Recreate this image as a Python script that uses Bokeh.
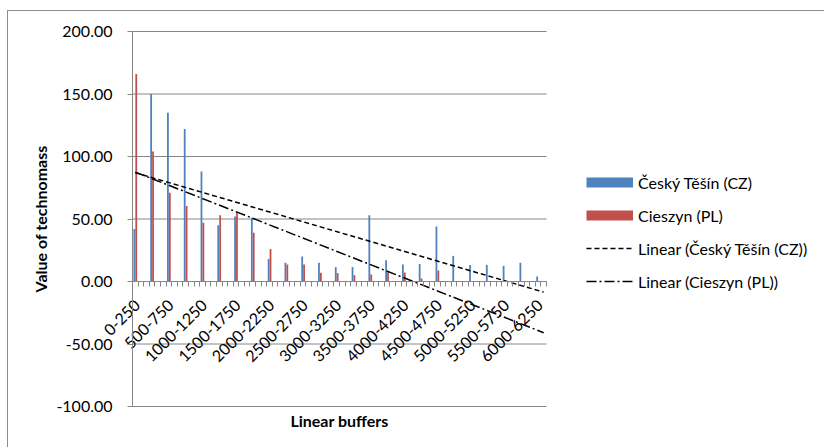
from math import pi
from bokeh.plotting import figure
from bokeh.models import (Range1d, FixedTicker, LinearAxis, Legend, LegendItem,
                          NumeralTickFormatter, ColumnDataSource)
from bokeh.core.properties import value
from bokeh.embed import file_html
from bokeh.resources import INLINE

# ---------------- data ----------------
buffers = ["0-250", "250-500", "500-750", "750-1000", "1000-1250", "1250-1500",
           "1500-1750", "1750-2000", "2000-2250", "2250-2500", "2500-2750", "2750-3000",
           "3000-3250", "3250-3500", "3500-3750", "3750-4000", "4000-4250", "4250-4500",
           "4500-4750", "4750-5000", "5000-5250", "5250-5500", "5500-5750", "5750-6000",
           "6000-6250"]
cesky_tesin = [42, 150, 135, 122, 88, 45, 52, 51, 18, 15, 20, 15, 11.5, 11.5, 53,
               17, 13.6, 14, 44, 20.5, 13.3, 13.3, 12.5, 15, 4]
cieszyn = [166, 104, 71, 60.5, 47, 53, 55.5, 39, 26, 13.6, 13.6, 7, 6.7, 5, 5.6,
           7.5, 7.2, 2.4, 8.8, 0, 0, 0, 0, 0, 0]
# linear trend lines: values at first and last category slot
trend_cz = [87.0, -8.5]
trend_pl = [87.5, -41.0]
y_ticks = [-100, -50, 0, 50, 100, 150, 200]

series_names = ["Český Těšín (CZ)", "Cieszyn (PL)",
                "Linear (Český Těšín (CZ))", "Linear (Cieszyn (PL))"]

# ---------------- layout helpers ----------------
SLOTS_PER_ROW = 3          # category axis has blank rows between data rows
N_SLOTS = 74
CANVAS_W, CANVAS_H = 817, 437
AREA_LEFT, AREA_TOP = 124, 20      # plot area position inside the canvas (px)
AREA_W, AREA_H = 414, 375          # plot area size (px)
BLUE = "#4F81BD"
RED = "#C0504D"
GRID = "#868686"
FONT = "Lato"

x_per_px = N_SLOTS / AREA_W
y_lo, y_hi = y_ticks[0], y_ticks[-1]
y_per_px = (y_hi - y_lo) / AREA_H
x_range = Range1d(-AREA_LEFT * x_per_px, (CANVAS_W - AREA_LEFT) * x_per_px)
y_range = Range1d(y_lo - (CANVAS_H - AREA_TOP - AREA_H) * y_per_px, y_hi + AREA_TOP * y_per_px)

xc = [SLOTS_PER_ROW * i + 0.5 for i in range(len(buffers))]
src = ColumnDataSource(dict(x_cz=[x - 0.17 for x in xc], x_pl=[x + 0.17 for x in xc],
                            cz=cesky_tesin, pl=cieszyn))

p = figure(width=CANVAS_W, height=CANVAS_H, output_backend="svg", toolbar_location=None,
           x_range=x_range, y_range=y_range, x_axis_location=None,
           min_border_left=0, min_border_right=0, min_border_top=0, min_border_bottom=0)
p.margin = (10, 0, 0, 7)
p.styles = {"border-left": "1px solid #8c8c8c", "border-top": "1px solid #8c8c8c"}
p.outline_line_color = None
p.background_fill_color = "white"
p.border_fill_color = "white"
p.xgrid.grid_line_color = None
p.ygrid.grid_line_color = None

# value axis, placed at the left edge of the category area
yax = p.yaxis[0]
yax.fixed_location = 0
yax.bounds = (y_lo, y_hi)
yax.ticker = FixedTicker(ticks=y_ticks)
yax.formatter = NumeralTickFormatter(format="0.00")
yax.major_label_text_font = FONT
yax.major_label_text_font_size = "16px"
yax.major_label_text_color = "black"
yax.major_tick_out = 5
yax.major_tick_in = 0
yax.minor_tick_out = 0
yax.minor_tick_in = 0
yax.major_label_standoff = 15
yax.axis_line_color = GRID
yax.major_tick_line_color = GRID

# horizontal gridlines over the category area only
p.multi_line(xs=[[0, N_SLOTS] for _ in y_ticks], ys=[[t, t] for t in y_ticks],
             line_color=GRID, line_width=1)

# bars
r_cz = p.vbar(x="x_cz", top="cz", width=0.32, bottom=0, source=src,
              fill_color=BLUE, line_color=None)
r_pl = p.vbar(x="x_pl", top="pl", width=0.32, bottom=0, source=src,
              fill_color=RED, line_color=None)

# category axis at y = 0: line and tick marks at slot boundaries
xaxis0 = LinearAxis(fixed_location=0, bounds=(0, N_SLOTS),
                    ticker=FixedTicker(ticks=[], minor_ticks=list(range(N_SLOTS + 1))),
                    major_tick_out=0, major_tick_in=0, minor_tick_out=5, minor_tick_in=0,
                    axis_line_color=GRID, minor_tick_line_color=GRID,
                    major_tick_line_color=None)
p.add_layout(xaxis0, "below")

# category labels (every other row), rotated 45 degrees
lab_idx = list(range(0, len(buffers), 2))
p.text(x=[xc[i] for i in lab_idx], y=[0] * len(lab_idx), text=[buffers[i] for i in lab_idx],
       angle=pi / 4, text_align="right", text_baseline="middle",
       x_offset=2, y_offset=21, text_font=value(FONT), text_font_size="16px",
       text_color="black")

# axis titles
p.text(x=[0], y=[(y_lo + y_hi) / 2], text=["Value of technomass"], angle=pi / 2,
       text_align="center", text_baseline="middle", x_offset=-92,
       text_font=value(FONT), text_font_size="16px", text_font_style="bold",
       text_color="black")
p.text(x=[N_SLOTS / 2], y=[y_lo], text=["Linear buffers"],
       text_align="center", text_baseline="middle", y_offset=14,
       text_font=value(FONT), text_font_size="16px", text_font_style="bold",
       text_color="black")

# trend lines
tx = [xc[0], N_SLOTS - 0.5]
t_cz = p.line(tx, trend_cz, line_color="black", line_width=1.5, line_dash="5 3")
t_pl = p.line(tx, trend_pl, line_color="black", line_width=1.5, line_dash="10 3 2 3")

# legend swatches for the bar series (hidden renderers, shown only in the legend)
sw_cz = p.line(xc, cesky_tesin, line_color=BLUE, line_width=10, visible=False)
sw_pl = p.line(xc, cieszyn, line_color=RED, line_width=10, visible=False)

legend = Legend(items=[LegendItem(label=series_names[0], renderers=[sw_cz]),
                       LegendItem(label=series_names[1], renderers=[sw_pl]),
                       LegendItem(label=series_names[2], renderers=[t_cz]),
                       LegendItem(label=series_names[3], renderers=[t_pl])],
                location=(578, 157), padding=0, margin=0, spacing=13,
                glyph_width=47, glyph_height=20, label_height=20, label_standoff=5,
                label_text_font=FONT, label_text_font_size="16px",
                label_text_color="black", inactive_fill_alpha=0,
                border_line_color=None, background_fill_alpha=0)
p.add_layout(legend, "center")

open("out.html", "w").write(file_html(p, INLINE))
